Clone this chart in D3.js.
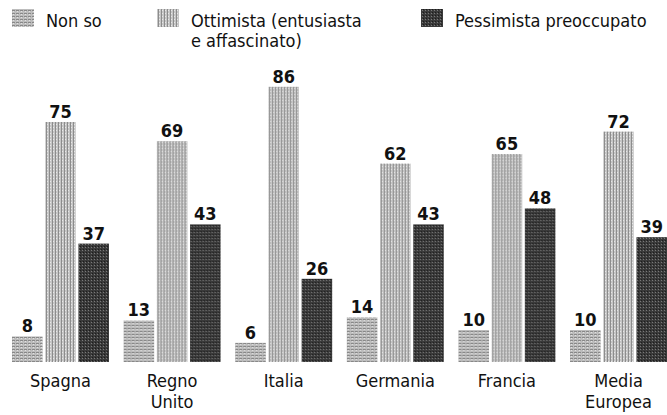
<!DOCTYPE html>
<html lang="it">
  <head>
    <meta charset="utf-8">
    <script src="https://cdn.jsdelivr.net/npm/d3@7"></script>
    <style>
      body { margin: 0; background: #fff; }
      text { font-family: "Liberation Sans Narrow", "DejaVu Sans Condensed", "Open Sans", sans-serif; }
    </style>
  </head>
  <body>
    <svg class="chart"></svg>
  </body>
  <script>
    var categories = [['Spagna'], ['Regno', 'Unito'], ['Italia'], ['Germania'], ['Francia'], ['Media', 'Europea']];
    var seriesNames = ['Non so', 'Ottimista (entusiasta|e affascinato)', 'Pessimista preoccupato'];
    var nonSo = [8, 13, 6, 14, 10, 10];
    var ottimista = [75, 69, 86, 62, 65, 72];
    var pessimista = [37, 43, 26, 43, 48, 39];

    var screenWidth = 667, screenHeight = 415;
    var svg = d3.select('.chart')
                .attr('width', screenWidth)
                .attr('height', screenHeight);

    // dithered grey textures
    var defs = svg.append('defs');
    var p0 = defs.append('pattern').attr('id', 'pat0').attr('patternUnits', 'userSpaceOnUse')
                 .attr('width', 4).attr('height', 3);
    p0.append('rect').attr('width', 4).attr('height', 3).attr('fill', '#bdbdbd');
    p0.append('rect').attr('y', 1).attr('width', 3).attr('height', 1).attr('fill', '#888');
    p0.append('rect').attr('x', 1).attr('y', 2).attr('width', 1).attr('height', 1).attr('fill', '#e2e2e2');

    var p1 = defs.append('pattern').attr('id', 'pat1').attr('patternUnits', 'userSpaceOnUse')
                 .attr('width', 3).attr('height', 3);
    p1.append('rect').attr('width', 3).attr('height', 3).attr('fill', '#c6c6c6');
    p1.append('rect').attr('x', 1).attr('width', 1).attr('height', 3).attr('fill', '#8c8c8c');
    p1.append('rect').attr('x', 2).attr('y', 1).attr('width', 1).attr('height', 1).attr('fill', '#e8e8e8');

    var p2 = defs.append('pattern').attr('id', 'pat2').attr('patternUnits', 'userSpaceOnUse')
                 .attr('width', 3).attr('height', 3);
    p2.append('rect').attr('width', 3).attr('height', 3).attr('fill', '#3a3a3a');
    p2.append('rect').attr('x', 1).attr('y', 1).attr('width', 1).attr('height', 1).attr('fill', '#7a7a7a');
    p2.append('rect').attr('x', 2).attr('y', 0).attr('width', 1).attr('height', 1).attr('fill', '#1c1c1c');

    var fills = ['url(#pat0)', 'url(#pat1)', 'url(#pat2)'];

    var baseline = 362;
    var yScale = d3.scaleLinear().domain([0, 100]).range([baseline, baseline - 320]);

    var x0 = d3.scaleBand().domain(d3.range(categories.length))
               .range([12, 667]).paddingInner(0.131).paddingOuter(0);
    var x1 = d3.scaleBand().domain([0, 1, 2])
               .range([0, x0.bandwidth()]).paddingInner(0.08).paddingOuter(0);

    var series = [nonSo, ottimista, pessimista];

    var groups = svg.selectAll('g.group')
                    .data(categories)
                    .enter()
                    .append('g')
                    .classed('group', true)
                    .attr('transform', function(d, i){ return 'translate(' + x0(i) + ',0)'; });

    groups.selectAll('rect')
          .data(function(d, i){ return series.map(function(s, j){ return {s: j, v: s[i]}; }); })
          .enter()
          .append('rect')
          .attr('x', function(d){ return x1(d.s); })
          .attr('y', function(d){ return yScale(d.v); })
          .attr('width', x1.bandwidth())
          .attr('height', function(d){ return baseline - yScale(d.v); })
          .attr('fill', function(d){ return fills[d.s]; });

    groups.selectAll('text.value')
          .data(function(d, i){ return series.map(function(s, j){ return {s: j, v: s[i]}; }); })
          .enter()
          .append('text')
          .classed('value', true)
          .attr('x', function(d){ return x1(d.s) + x1.bandwidth() / 2; })
          .attr('y', function(d){ return yScale(d.v) - 4; })
          .attr('text-anchor', 'middle')
          .attr('font-size', 18)
          .attr('font-weight', 'bold')
          .attr('fill', '#111')
          .text(function(d){ return d.v; });

    var catLabels = groups.append('text')
          .attr('x', x1(1) + x1.bandwidth() / 2)
          .attr('y', 387)
          .attr('text-anchor', 'middle')
          .attr('font-size', 18)
          .attr('fill', '#111');
    catLabels.selectAll('tspan')
          .data(function(d){ return d; })
          .enter()
          .append('tspan')
          .attr('x', x1(1) + x1.bandwidth() / 2)
          .attr('dy', function(d, i){ return i === 0 ? 0 : 21; })
          .text(function(d){ return d; });

    // legend
    var legendX = [12, 157, 421];
    var legend = svg.append('g').classed('legend', true);
    var items = legend.selectAll('g')
                      .data(seriesNames)
                      .enter()
                      .append('g')
                      .attr('transform', function(d, i){ return 'translate(' + legendX[i] + ',0)'; });
    items.append('rect')
         .attr('x', 0).attr('y', 9)
         .attr('width', 22).attr('height', 18)
         .attr('fill', function(d, i){ return fills[i]; });
    var lt = items.append('text')
         .attr('x', 34).attr('y', 27)
         .attr('font-size', 18)
         .attr('fill', '#111');
    lt.selectAll('tspan')
      .data(function(d){ return d.split('|'); })
      .enter()
      .append('tspan')
      .attr('x', 34)
      .attr('dy', function(d, i){ return i === 0 ? 0 : 20; })
      .text(function(d){ return d; });
  </script>
</html>
